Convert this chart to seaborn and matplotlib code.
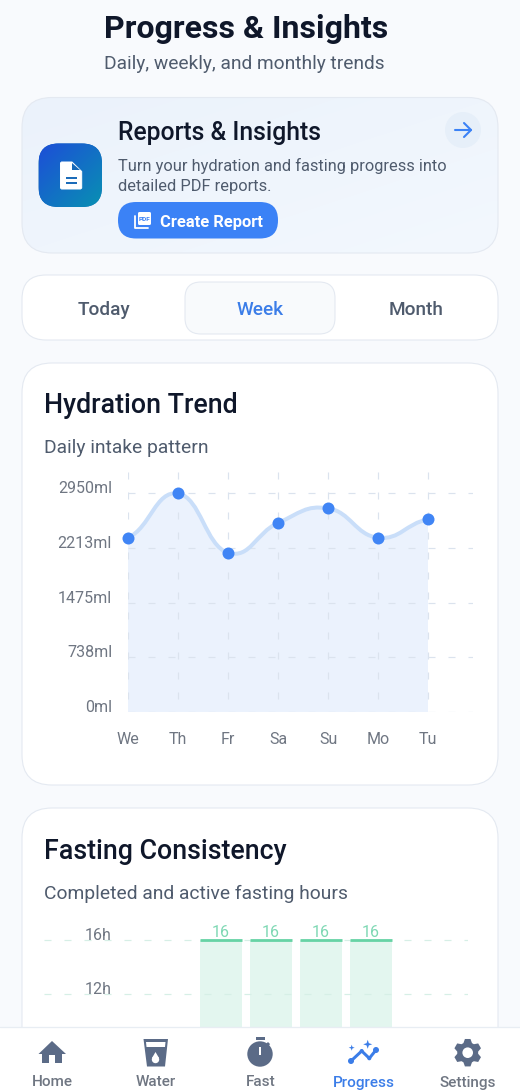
import numpy as np
import matplotlib
matplotlib.use('Agg')
import matplotlib.pyplot as plt
from matplotlib.patches import FancyBboxPatch, Circle, Polygon, PathPatch, Rectangle
from matplotlib.path import Path
from matplotlib.colors import to_rgb
import seaborn as sns

sns.set_theme(style='white')
plt.rcParams['font.family'] = ['Roboto', 'DejaVu Sans']
plt.rcParams['lines.scale_dashes'] = False
plt.rcParams['patch.force_edgecolor'] = False

W, H = 520, 1092

# chart data
days = ['We', 'Th', 'Fr', 'Sa', 'Su', 'Mo', 'Tu']
intake_ml = [2353, 2950, 2150, 2552, 2750, 2353, 2600]
intake_ticks = [0, 737.5, 1475, 2212.5, 2950]
intake_tick_labels = ['0ml', '738ml', '1475ml', '2213ml', '2950ml']
fasting_hours = [0, 0, 16, 16, 16, 16, 0]
fasting_ticks = [12, 16]
fasting_tick_labels = ['12h', '16h']

BLUE = '#3b82f6'
INK = '#0f172a'
SLATE = '#4f5b6d'
GREY = '#6f7682'
NAV = '#5b6b87'
BORDER = '#e4e9f1'


def fs(px):
    return px * 0.72


def axes_px(left, top, right, bottom):
    return fig.add_axes([left / W, 1 - bottom / H, (right - left) / W, (bottom - top) / H])


def box(ax, x0, y0, x1, y1, r, fc, ec='none', lw=0, z=1):
    p = FancyBboxPatch((x0, y0), x1 - x0, y1 - y0, boxstyle=f'round,pad=0,rounding_size={r}',
                       fc=fc, ec=ec, lw=lw * 0.72, zorder=z)
    ax.add_patch(p)
    return p


def gradient(ax, patch, extent, c0, c1, z):
    # diagonal blend, clipped to a rounded box
    t = np.linspace(0, 1, 64)
    tx, ty = np.meshgrid(t, t)
    f = ((tx + ty) / 2)[..., None]
    img = np.array(to_rgb(c0)) * (1 - f) + np.array(to_rgb(c1)) * f
    im = ax.imshow(img, extent=extent, aspect='auto', zorder=z, origin='upper', interpolation='bilinear')
    im.set_clip_path(patch)


def smooth_path(xs, ys, smooth=0.45):
    # bezier through the points, same shape for the stroke and the fill
    n = len(xs)
    verts = [(xs[0], ys[0])]
    codes = [Path.MOVETO]
    slope = [(ys[min(i + 1, n - 1)] - ys[max(i - 1, 0)]) / 2 for i in range(n)]
    for i in range(n - 1):
        verts += [(xs[i] + smooth, ys[i] + slope[i] * smooth),
                  (xs[i + 1] - smooth, ys[i + 1] - slope[i + 1] * smooth),
                  (xs[i + 1], ys[i + 1])]
        codes += [Path.CURVE4] * 3
    return verts, codes


fig = plt.figure(figsize=(W / 100, H / 100), dpi=100, facecolor='#f8fafd')

# page chrome, in pixel coordinates
bg = fig.add_axes([0, 0, 1, 1], zorder=0)
bg.axis('off')

bg.text(246.5, 38, 'Progress & Insights', fontsize=fs(32), fontweight='semibold', color=INK, ha='center', va='baseline')
bg.text(244.5, 69, 'Daily, weekly, and monthly trends', fontsize=fs(19.2), color=SLATE, ha='center', va='baseline')

# report card
card = box(bg, 22, 97.5, 498, 253, 30, 'none', BORDER, 1.1, z=2)
fill = box(bg, 22, 97.5, 498, 253, 30, '#edf4fc', z=1)
gradient(bg, fill, (22, 498, 253, 97.5), '#ebf2fb', '#f3f8fe', 1)
icon = box(bg, 38.5, 143.5, 102, 207, 20, '#1668b8', z=2)
gradient(bg, icon, (38.5, 102, 207, 143.5), '#1d4ed8', '#0891b2', 2)
bg.add_patch(Polygon([(60.5, 163), (61.5, 162), (72, 162), (81.7, 171.5), (81.7, 188), (80.5, 189),
                      (61.5, 189), (60.5, 188)], fc='white', ec='white', lw=0.7, zorder=3))
bg.add_patch(Polygon([(72, 162.5), (72, 170), (79.5, 170)], fc='#1668b8', zorder=3))
bg.plot([65.5, 76.5], [177.7, 177.7], color='#1668b8', lw=1.4, zorder=4, solid_capstyle='butt')
bg.plot([65.5, 76.5], [182.5, 182.5], color='#1668b8', lw=1.4, zorder=4, solid_capstyle='butt')
bg.text(118, 140, 'Reports & Insights', fontsize=fs(24.8), fontweight='medium', color=INK, va='baseline', zorder=3)
bg.text(118, 171, 'Turn your hydration and fasting progress into', fontsize=fs(16.35), color=SLATE, va='baseline', zorder=3)
bg.text(118, 191.5, 'detailed PDF reports.', fontsize=fs(16.35), color=SLATE, va='baseline', zorder=3)
box(bg, 118, 202, 278, 238.5, 18, BLUE, z=3)
bg.plot([135, 135, 147.5], [216, 228.3, 228.3], color='white', lw=1.3, zorder=4)
box(bg, 138, 212, 151, 225, 1.5, 'white', z=4)
bg.text(144.5, 220.8, 'PDF', fontsize=fs(6.5), fontweight='bold', color=BLUE, ha='center', va='baseline', zorder=5)
bg.text(160.5, 226.5, 'Create Report', fontsize=fs(16.5), fontweight='semibold', color='white', va='baseline', zorder=4)
bg.add_patch(Circle((463, 130), 18, fc='#e6eff9', zorder=3))
bg.plot([455, 471], [130, 130], color=BLUE, lw=1.5, zorder=4, solid_capstyle='round')
bg.plot([464, 471, 464], [123, 130, 137], color=BLUE, lw=1.5, zorder=4, solid_capstyle='round')

# range tabs
box(bg, 22, 275, 498, 340, 24, 'white', BORDER, 1.1)
box(bg, 185, 282, 335, 334, 16, '#f8fafc', BORDER, 1.1, z=2)
for x, label, col in [(104, 'Today', SLATE), (260, 'Week', '#3b7de8'), (416.5, 'Month', SLATE)]:
    bg.text(x, 315, label, fontsize=fs(19), fontweight='medium', color=col, ha='center', va='baseline', zorder=3)

# chart cards
box(bg, 22, 363, 498, 785, 30, 'white', BORDER, 1.1)
bg.text(44, 413, 'Hydration Trend', fontsize=fs(26.7), fontweight='medium', color=INK, va='baseline')
bg.text(44, 453, 'Daily intake pattern', fontsize=fs(19.3), color=SLATE, va='baseline')
box(bg, 22, 808, 498, 1180, 30, 'white', BORDER, 1.1)
bg.text(44, 859, 'Fasting Consistency', fontsize=fs(26.7), fontweight='medium', color=INK, va='baseline')
bg.text(44, 899, 'Completed and active fasting hours', fontsize=fs(19.25), color=SLATE, va='baseline')
bg.set_xlim(0, W)
bg.set_ylim(H, 0)

# hydration chart
ax = axes_px(128, 472, 473, 712)
ax.set_zorder(1)
ax.patch.set_alpha(0)
xs = list(range(len(days)))
verts, codes = smooth_path(xs, intake_ml)
area = verts + [(xs[-1], 0), (xs[0], 0), verts[0]]
area_codes = codes + [Path.LINETO, Path.LINETO, Path.CLOSEPOLY]
ax.add_patch(PathPatch(Path(area, area_codes), fc='#ebf2fd', ec='none', zorder=1))
ax.add_patch(PathPatch(Path(verts, codes), fc='none', ec='#c9def9', lw=fs(4), zorder=3, clip_on=False))
sns.scatterplot(x=xs, y=intake_ml, ax=ax, color='#4085f5', s=fs(12) ** 2, linewidth=0, zorder=4, clip_on=False)
ax.set_xlim(0, 6.9)
ax.set_ylim(0, 3240)
ax.set_xticks(xs, days)
ax.set_yticks(intake_ticks, intake_tick_labels)
ax.xaxis.grid(True, color='#dbe3ee', lw=fs(1.2), linestyle=(fs(7), (fs(7), fs(13))), zorder=2)
ax.yaxis.grid(True, color='#dbe3ee', lw=fs(1.2), linestyle=(0, (fs(7), fs(13))), zorder=2)
ax.set_axisbelow(False)
ax.tick_params(axis='both', length=0, labelsize=fs(16), labelcolor=GREY)
ax.tick_params(axis='x', pad=fs(20))
ax.tick_params(axis='y', pad=fs(16))
plt.setp(ax.get_yticklabels(), va='baseline')
sns.despine(ax=ax, left=True, bottom=True)

# fasting chart, runs on under the nav bar
ax2 = axes_px(44, 925, 468, 1154.7)
ax2.set_zorder(1)
ax2.patch.set_alpha(0)
sns.barplot(x=days, y=fasting_hours, ax=ax2, color='#e3f6ef', saturation=1, width=0.84, order=days)
labels = ['' if v == 0 else str(v) for v in fasting_hours]
ax2.bar_label(ax2.containers[0], labels=labels, fontsize=fs(16), color='#7fd8b4', padding=0)
for i, v in enumerate(fasting_hours):
    if v > 0:
        ax2.hlines(v, i - 0.42, i + 0.42, color='#66d3a5', lw=fs(2.8), zorder=4)
ax2.set_xlim(-1.54, 6.94)
ax2.set_ylim(0, 17.1)
ax2.set_xticks([])
ax2.set_yticks(fasting_ticks, fasting_tick_labels)
ax2.set_xlabel('')
ax2.yaxis.grid(True, color='#d6efe6', lw=fs(1.2), linestyle=(0, (fs(7), fs(13))), zorder=2)
ax2.set_axisbelow(False)
ax2.tick_params(axis='y', length=0, labelsize=fs(16), labelcolor=GREY, pad=-fs(68))
plt.setp(ax2.get_yticklabels(), va='baseline')
sns.despine(ax=ax2, left=True, bottom=True)

# bottom nav
nav = fig.add_axes([0, 0, 1, 1], zorder=5)
nav.axis('off')
nav.add_patch(Rectangle((0, 1027), W, 65, fc='white', ec='none'))
nav.plot([0, W], [1027, 1027], color='#e8edf3', lw=fs(1.3))
for x, label, col in [(52, 'Home', GREY), (156, 'Water', GREY), (260.5, 'Fast', GREY),
                      (364, 'Progress', '#3b7de8'), (467.5, 'Settings', GREY)]:
    nav.text(x, 1086.5, label, fontsize=fs(15.3), fontweight='medium', color=col, ha='center', va='baseline')

# home
nav.add_patch(Polygon([(52, 1041), (66, 1054), (62, 1054), (62, 1063), (55, 1063), (55, 1055), (49, 1055),
                       (49, 1063), (42, 1063), (42, 1054), (38.5, 1054)], fc=NAV))
# water glass
nav.add_patch(Polygon([(143.5, 1039), (168, 1039), (165, 1066.5), (147, 1066.5)], fc=NAV))
nav.add_patch(Polygon([(146, 1042), (165.5, 1042), (165, 1047), (146.5, 1047)], fc='white'))
nav.add_patch(Circle((155.5, 1059.5), 3.7, fc='white'))
nav.add_patch(Polygon([(155.5, 1052), (159, 1058), (152, 1058)], fc='white'))
# stopwatch
nav.add_patch(Circle((260, 1054), 12.7, fc=NAV))
nav.add_patch(Rectangle((255.5, 1037), 9, 3, fc=NAV))
nav.add_patch(Rectangle((268, 1042), 3, 3, fc=NAV, angle=45))
nav.add_patch(Rectangle((258.7, 1047), 2.6, 8, fc='white'))
# progress line with sparkles
trend_x, trend_y = [351, 361.7, 369.3, 376], [1061, 1051, 1058.3, 1050]
nav.plot(trend_x, trend_y, color='#3b7de8', lw=fs(3), solid_joinstyle='round')
nav.add_patch(Circle((351, 1061), 3, fc='#3b7de8'))
nav.add_patch(Circle((376, 1050), 3, fc='#3b7de8'))
nav.add_patch(Circle((361.7, 1051), 2, fc='#3b7de8'))
nav.add_patch(Circle((369.3, 1058.3), 2, fc='#3b7de8'))
for cx, cy, r in [(367.7, 1044.3, 4.5), (351.7, 1047.7, 3)]:
    nav.add_patch(Polygon([(cx, cy - r), (cx + r * 0.25, cy - r * 0.25), (cx + r, cy), (cx + r * 0.25, cy + r * 0.25),
                           (cx, cy + r), (cx - r * 0.25, cy + r * 0.25), (cx - r, cy), (cx - r * 0.25, cy - r * 0.25)],
                          fc='#3b7de8'))
# gear
angles = np.deg2rad(np.arange(0, 360, 60) - 90)
gear = []
for a in angles:
    for da, r in [(-0.42, 10.5), (-0.2, 14), (0.2, 14), (0.42, 10.5)]:
        gear.append((467.7 + r * np.cos(a + da), 1052.7 + r * np.sin(a + da)))
nav.add_patch(Polygon(gear, fc=NAV, joinstyle='round'))
nav.add_patch(Circle((467.7, 1052.7), 5.3, fc='white'))
nav.set_xlim(0, W)
nav.set_ylim(H, 0)

fig.savefig('out.png', dpi=100)
